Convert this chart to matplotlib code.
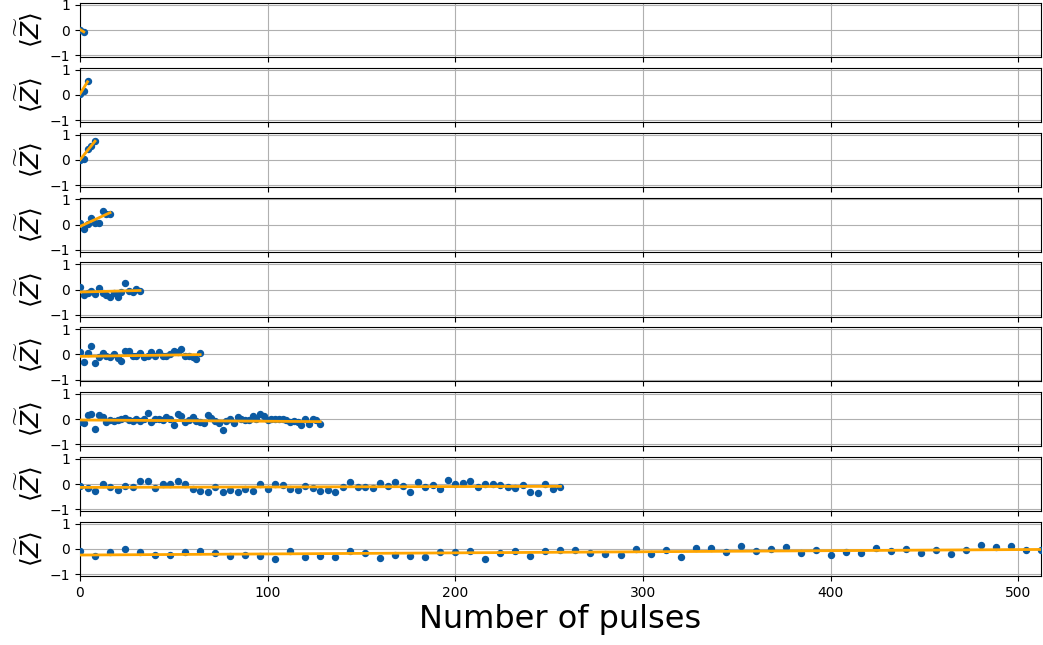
import numpy as np
import matplotlib
matplotlib.use("Agg")
import matplotlib.pyplot as plt

# x positions (number of pulses) for each row
x1 = [0, 2]
x2 = [0, 2, 4]
x3 = [0, 2, 4, 6, 8]
x4 = list(range(0, 17, 2))
x5 = list(range(0, 33, 2))
x6 = list(range(0, 65, 2))
x7 = list(range(0, 129, 2))
x8 = list(range(0, 257, 4))
x9 = list(range(0, 513, 8))

y1 = [0.02, -0.07]
y2 = [0.03, 0.15, 0.56]
y3 = [0.0, 0.04, 0.44, 0.55, 0.74]
y4 = [0.05, -0.18, 0.02, 0.25, 0.08, 0.05, 0.56, 0.42, 0.42]
y5 = [0.1, -0.2, -0.15, -0.05, -0.17, 0.07, -0.12, -0.22, -0.3, -0.12,
      -0.3, -0.1, 0.25, -0.05, -0.08, 0.02, -0.06]
y6 = [0.08, -0.32, 0.04, 0.32, -0.35, -0.1, 0.04, -0.08, -0.12, 0.01,
      -0.16, -0.25, 0.15, 0.12, -0.08, -0.08, 0.05, -0.12, -0.08, 0.08,
      -0.08, 0.08, -0.08, -0.08, 0.01, 0.15, 0.08, 0.2, -0.05, -0.08,
      -0.12, -0.18, 0.06]
y7 = [-0.1, -0.14, 0.15, 0.19, -0.37, 0.15, 0.08, -0.12, -0.05, -0.08,
      -0.05, -0.01, 0.04, -0.03, -0.08, 0.01, -0.08, 0.01, 0.24, -0.12,
      -0.01, 0.01, -0.05, 0.09, -0.01, -0.21, 0.19, 0.14, -0.12, -0.05,
      0.08, -0.08, -0.12, -0.16, 0.15, 0.04, -0.08, -0.16, -0.41, -0.08,
      0.01, -0.16, 0.08, -0.01, -0.05, -0.05, 0.12, -0.01, 0.19, 0.12,
      -0.05, -0.01, 0.01, 0.01, -0.01, -0.05, -0.12, -0.08, -0.12, -0.21,
      -0.01, -0.18, -0.01, -0.05, -0.17]
y8 = [-0.08, -0.16, -0.29, 0.0, -0.13, -0.23, -0.09, -0.13, 0.11, 0.13,
      -0.16, 0.01, 0.01, 0.11, -0.01, -0.19, -0.27, -0.31, -0.11, -0.33,
      -0.25, -0.33, -0.19, -0.29, -0.01, -0.2, 0.0, -0.04, -0.2, -0.23,
      -0.07, -0.15, -0.29, -0.24, -0.31, -0.13, 0.07, -0.11, -0.11, -0.15,
      0.03, -0.09, 0.07, -0.07, -0.33, 0.09, -0.13, -0.04, -0.19, 0.16,
      0.0, 0.04, 0.11, -0.12, -0.01, 0.0, -0.04, -0.13, -0.16, -0.05,
      -0.31, -0.36, -0.01, -0.21, -0.13]
y9 = [-0.09, -0.27, -0.12, -0.01, -0.13, -0.23, -0.23, -0.11, -0.09, -0.17,
      -0.29, -0.25, -0.28, -0.39, -0.08, -0.32, -0.29, -0.33, -0.09, -0.16,
      -0.37, -0.25, -0.29, -0.31, -0.12, -0.11, -0.09, -0.41, -0.17, -0.09,
      -0.28, -0.08, -0.03, -0.04, -0.16, -0.19, -0.24, -0.01, -0.19, -0.03,
      -0.33, 0.03, 0.03, -0.11, 0.11, -0.08, -0.01, 0.07, -0.15, -0.04,
      -0.23, -0.13, -0.15, 0.03, -0.08, 0.0, -0.16, -0.04, -0.21, -0.05,
      0.16, 0.07, 0.11, -0.03, -0.05]

# linear fit lines: intercept, slope
fit_intercepts = [0.02, 0.04, 0.0, -0.07, -0.10, -0.08, -0.03, -0.13, -0.24]
fit_slopes = [-0.045, 0.12, 0.092, 0.034, 0.0019, 0.0011, -0.0005, 0.00016, 0.00043]

xs = [x1, x2, x3, x4, x5, x6, x7, x8, x9]
ys = [y1, y2, y3, y4, y5, y6, y7, y8, y9]

xticks = [0, 100, 200, 300, 400, 500]
yticks = [-1, 0, 1]

dot_color = "#0b5aa2"
line_color = "#ffa500"

fig, axes = plt.subplots(len(xs), 1, figsize=(10.43, 6.45), dpi=100, sharex=True,
                         gridspec_kw=dict(hspace=0.2))
fig.subplots_adjust(left=0.0767, right=0.998, top=0.9953, bottom=0.107)

for ax, xv, yv, b, m in zip(axes, xs, ys, fit_intercepts, fit_slopes):
    xv = np.asarray(xv)
    ax.plot(xv, yv, 'o', color=dot_color, markersize=4.3, zorder=3)
    xl = np.array([0, xv[-1]])
    ax.plot(xl, b + m * xl, '-', color=line_color, lw=2, zorder=4)
    ax.set_ylim(-1.07, 1.07)
    ax.set_yticks(yticks)
    ax.set_xlim(0, 512)
    ax.set_xticks(xticks)
    ax.grid(True)
    ax.set_axisbelow(True)
    ax.set_ylabel(r'$\langle \widetilde{Z} \rangle$', fontsize=18, labelpad=4)
    ax.tick_params(labelsize=10)

axes[-1].set_xlabel('Number of pulses', fontsize=23, labelpad=3)

fig.savefig('out.png', dpi=100)
